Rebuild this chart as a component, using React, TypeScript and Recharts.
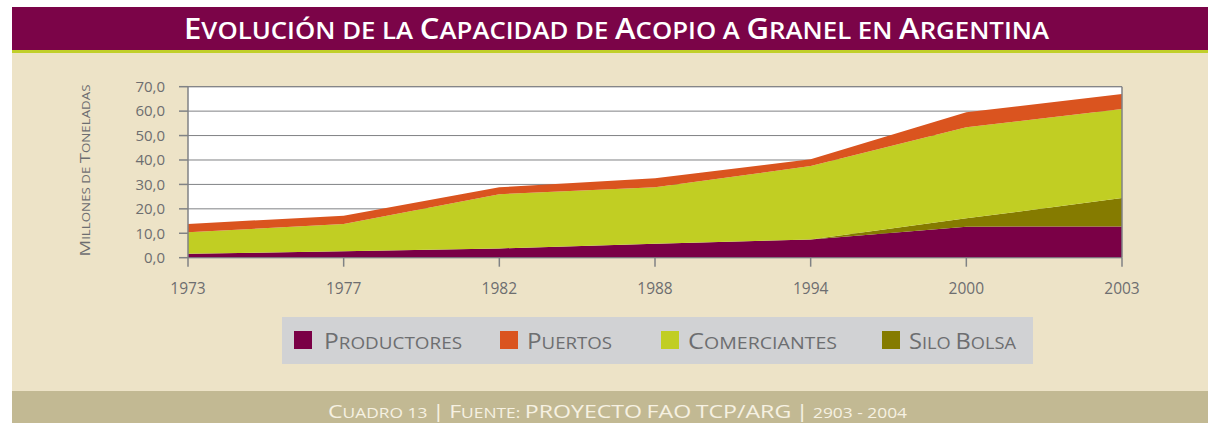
import React from 'react';
import { AreaChart, Area, XAxis, YAxis, CartesianGrid, ReferenceLine } from 'recharts';

// ---- Data (millones de toneladas) ----
const years = ['1973', '1977', '1982', '1988', '1994', '2000', '2003'];
const productores = [1.6, 2.6, 3.8, 5.7, 7.5, 12.7, 12.8];
const siloBolsa = [0, 0, 0, 0, 0, 3.4, 11.6];
const comerciantes = [8.8, 11.2, 22.2, 23.1, 30.0, 37.3, 36.5];
const puertos = [3.4, 3.4, 2.8, 3.7, 2.8, 6.1, 6.1];
const yTicks = [0, 10, 20, 30, 40, 50, 60, 70];

const titleText = 'Evolución de la Capacidad de Acopio a Granel en Argentina';
const yLabelText = 'Millones de Toneladas';
const footerText = 'Cuadro 13 | Fuente: PROYECTO FAO TCP/ARG | 2903 - 2004';

const COLORS = {
  productores: '#7A0046',
  puertos: '#DA541F',
  comerciantes: '#C1CE23',
  siloBolsa: '#857B00',
};

// legend order
const legendItems = [
  { key: 'productores', name: 'Productores', color: COLORS.productores },
  { key: 'puertos', name: 'Puertos', color: COLORS.puertos },
  { key: 'comerciantes', name: 'Comerciantes', color: COLORS.comerciantes },
  { key: 'siloBolsa', name: 'Silo Bolsa', color: COLORS.siloBolsa },
];
const legendLayout = [
  { sx: 294, tx: 324, tw: 138 },
  { sx: 500, tx: 527, tw: 85 },
  { sx: 661, tx: 688, tw: 149 },
  { sx: 882, tx: 909, tw: 107 },
];

const data = years.map((y, i) => ({
  year: y,
  productores: productores[i],
  siloBolsa: siloBolsa[i],
  comerciantes: comerciantes[i],
  puertos: puertos[i],
}));

const FONT = '"Open Sans", sans-serif';
const GRAY = '#6D6E70';
const LINE = '#808285';

const fmt = (v: number) => v.toFixed(1).replace('.', ',');

// Small-caps rendering: capitals at full size, everything else as smaller capitals
function smallCaps(text: string, size: number, ratio: number) {
  const runs: { big: boolean; s: string }[] = [];
  for (const ch of text) {
    const big = ch !== ch.toLowerCase() || ch === '/' || ch === '|';
    const last = runs[runs.length - 1];
    if (last && last.big === big) last.s += ch;
    else runs.push({ big, s: ch });
  }
  return runs.map((r, i) => (
    <tspan key={i} style={{ fontSize: r.big ? size : size * ratio, textTransform: 'uppercase' }}>
      {r.s}
    </tspan>
  ));
}

export default function App() {
  return (
    <div style={{ position: 'absolute', left: 0, top: 0, width: 1208, height: 423, background: '#fff', overflow: 'hidden', fontFamily: FONT }}>
      <div style={{ position: 'absolute', left: 12, top: 7, width: 1196, height: 43, background: '#7B0448' }} />
      <div style={{ position: 'absolute', left: 12, top: 50, width: 1196, height: 3, background: '#C1CF2A' }} />
      <div style={{ position: 'absolute', left: 12, top: 53, width: 1196, height: 338, background: '#EDE3C7' }} />
      <div style={{ position: 'absolute', left: 12, top: 391, width: 1196, height: 32, background: '#C2B993' }} />
      <div style={{ position: 'absolute', left: 282, top: 317, width: 751, height: 47, background: '#D1D2D4' }} />

      <div style={{ position: 'absolute', left: 0, top: 0 }}>
        <AreaChart width={1208} height={423} data={data} margin={{ top: 86.7, right: 86, left: 100, bottom: 125.3 }}>
          <CartesianGrid horizontal vertical={false} fill="#fff" stroke={LINE} strokeWidth={1} strokeOpacity={1} />
          <XAxis
            dataKey="year"
            height={40}
            interval={0}
            tickSize={9}
            tickMargin={16}
            tick={{ fill: GRAY, fontSize: 15.5, fontFamily: FONT }}
            axisLine={{ stroke: LINE, strokeWidth: 1 }}
            tickLine={{ stroke: LINE, strokeWidth: 1.5 }}
          />
          <YAxis
            width={88}
            domain={[0, 70]}
            ticks={yTicks}
            interval={0}
            tickFormatter={fmt}
            tickSize={9}
            tickMargin={14}
            tick={{ fill: GRAY, fontSize: 15, fontFamily: FONT }}
            axisLine={{ stroke: LINE, strokeWidth: 1.5 }}
            tickLine={{ stroke: LINE, strokeWidth: 1.5 }}
          />
          <Area type="linear" dataKey="productores" stackId="1" stroke="none" fill={COLORS.productores} fillOpacity={1} isAnimationActive={false} dot={false} activeDot={false} />
          <Area type="linear" dataKey="siloBolsa" stackId="1" stroke="none" fill={COLORS.siloBolsa} fillOpacity={1} isAnimationActive={false} dot={false} activeDot={false} />
          <Area type="linear" dataKey="comerciantes" stackId="1" stroke="none" fill={COLORS.comerciantes} fillOpacity={1} isAnimationActive={false} dot={false} activeDot={false} />
          <Area type="linear" dataKey="puertos" stackId="1" stroke="none" fill={COLORS.puertos} fillOpacity={1} isAnimationActive={false} dot={false} activeDot={false} />
          <ReferenceLine x="2003" stroke={LINE} strokeWidth={1.5} />
          <ReferenceLine y={70} stroke={LINE} strokeWidth={1} />
        </AreaChart>
      </div>

      <svg width={1208} height={423} style={{ position: 'absolute', left: 0, top: 0, pointerEvents: 'none' }}>
        <text x={184} y={39} textLength={865} lengthAdjust="spacingAndGlyphs" fill="#FFFFFF"
          style={{ fontWeight: 600, fontFamily: FONT }}>
          {smallCaps(titleText, 28, 0.83)}
        </text>
        <text transform="translate(89.5,170.5) rotate(-90)" textAnchor="middle" textLength={172} lengthAdjust="spacingAndGlyphs" fill={GRAY}
          style={{ fontFamily: FONT, fontWeight: 500 }}>
          {smallCaps(yLabelText, 14, 0.72)}
        </text>
        {legendItems.map((it, i) => (
          <g key={it.key}>
            <rect x={legendLayout[i].sx} y={331} width={18} height={18} fill={it.color} />
            <text x={legendLayout[i].tx} y={349} textLength={legendLayout[i].tw} lengthAdjust="spacingAndGlyphs" fill={GRAY}
              style={{ fontFamily: FONT }}>
              {smallCaps(it.name, 22, 0.77)}
            </text>
          </g>
        ))}
        <text x={328} y={418} textLength={579} lengthAdjust="spacingAndGlyphs" fill="#F6F1E2"
          style={{ fontFamily: FONT }}>
          {smallCaps(footerText, 19, 0.75)}
        </text>
      </svg>
    </div>
  );
}
